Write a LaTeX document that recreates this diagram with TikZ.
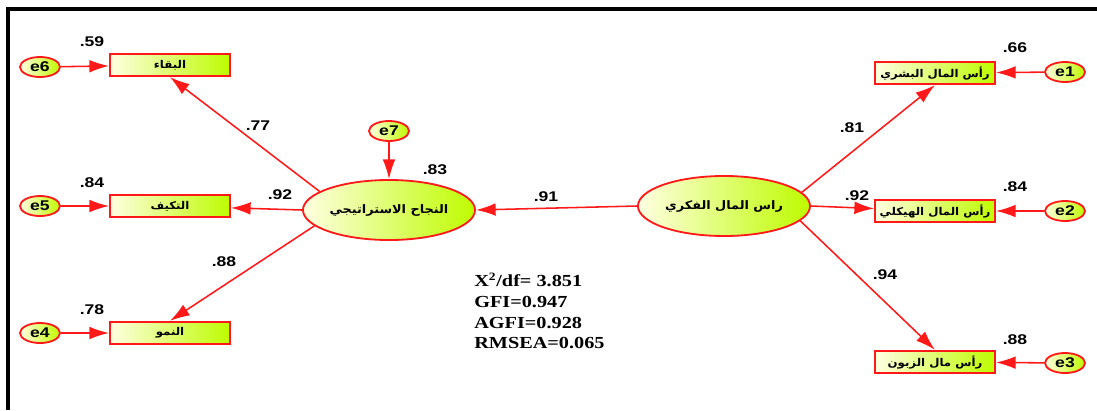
\documentclass[tikz,border=0pt]{standalone}
\usepackage{fontspec}
\setmainfont[FakeStretch=1.25]{Liberation Sans}
\newfontfamily\arabicfont[Script=Arabic,FakeStretch=1.1]{DejaVu Sans}
\newfontfamily\fitfont[FakeStretch=1.2]{Liberation Serif}
\TeXXeTstate=1
\usetikzlibrary{shapes,arrows,arrows.meta,positioning}
\definecolor{limey}{RGB}{190,252,0}
\definecolor{creamy}{RGB}{255,255,225}
\definecolor{pathred}{RGB}{255,25,25}
\tikzset{observed/.style={rectangle, draw=pathred, line width=1.3pt, left color=creamy, right color=limey,
 minimum width=3cm, minimum height=0.56cm, inner sep=0pt, font=\arabicfont\bfseries\fontsize{7.6}{9}\selectfont}}
\tikzset{latent/.style={ellipse, draw=pathred, line width=1.3pt, left color=creamy, right color=limey,
 minimum width=4.3cm, minimum height=1.5cm, inner sep=0pt, font=\arabicfont\bfseries\fontsize{8.3}{10}\selectfont}}
\tikzset{errterm/.style={ellipse, draw=pathred, line width=1.3pt, left color=creamy, right color=limey,
 minimum width=1cm, minimum height=0.5cm, inner sep=0pt, font=\bfseries\fontsize{10}{12}\selectfont}}
\tikzset{weight/.style={font=\bfseries\fontsize{10}{12}\selectfont, inner sep=1pt}}
\tikzset{line/.style={draw=pathred, line width=1.1pt, -{Latex[length=14pt,width=9pt]}}}

\begin{document}
\begin{tikzpicture}[x=0.025cm, y=-0.025cm]
        \useasboundingbox (0,0) rectangle (1097,410);
        \draw[line width=3pt] (8,410) -- (8,9) -- (1097,9);

        % latent variables
        \node[latent] (sc) at (389,210) {\beginR النجاح الاستراتيجي\endR};
        \node[latent] (ic) at (724,206) {\beginR راس المال الفكري\endR};

        % indicators
        \node[observed] (bq) at (170,65)  {\beginR البقاء\endR};
        \node[observed] (tk) at (170,206) {\beginR التكيف\endR};
        \node[observed] (nm) at (170,333) {\beginR النمو\endR};
        \node[observed] (hc) at (935,73)  {\beginR رأس المال البشري\endR};
        \node[observed] (st) at (935,211) {\beginR رأس المال الهيكلي\endR};
        \node[observed] (cc) at (935,362) {\beginR رأس مال الزبون\endR};

        % errors
        \node[errterm] (e6) at (40,67)   {e6};
        \node[errterm] (e5) at (40,206)  {e5};
        \node[errterm] (e4) at (40,333)  {e4};
        \node[errterm] (e7) at (389,131) {e7};
        \node[errterm] (e1) at (1065,72)  {e1};
        \node[errterm] (e2) at (1065,211) {e2};
        \node[errterm] (e3) at (1065,363) {e3};

        \path[line] (e6) -- (bq);
        \path[line] (e5) -- (tk);
        \path[line] (e4) -- (nm);
        \path[line] (e7) -- (sc);
        \path[line] (e1) -- (hc);
        \path[line] (e2) -- (st);
        \path[line] (e3) -- (cc);

        \path[line] (sc.165) -- (bq.south);
        \path[line] (sc.west) -- (tk);
        \path[line] (sc.192) -- (nm.north);
        \path[line] (ic.west) -- (sc.east);
        \path[line] (ic.10) -- (hc.south);
        \path[line] (ic.east) -- (st);
        \path[line] (ic.349) -- (cc.north);

        % estimates
        \node[weight] (r59) at (92,42)  {.59};
        \node[weight] (r84) at (92,183) {.84};
        \node[weight] (r78) at (92,310) {.78};
        \node[weight] (r83) at (435,170) {.83};
        \node[weight] (r66) at (1015,48)  {.66};
        \node[weight] (r84b) at (1015,187) {.84};
        \node[weight] (r88b) at (1015,340) {.88};
        \node[weight] (w77) at (258,126) {.77};
        \node[weight] (w92) at (280,195) {.92};
        \node[weight] (w88) at (224,262) {.88};
        \node[weight] (w91) at (546,197) {.91};
        \node[weight] (w81) at (852,128) {.81};
        \node[weight] (w92b) at (857,196) {.92};
        \node[weight] (w94) at (885,275) {.94};

        \node[anchor=north west, align=left, inner sep=0pt, font=\fitfont\bfseries\fontsize{12}{14.7}\selectfont]
          (fit) at (474,273) {X\textsuperscript{2}/df= 3.851\\GFI=0.947\\AGFI=0.928\\RMSEA=0.065};
      \end{tikzpicture}
\end{document}
